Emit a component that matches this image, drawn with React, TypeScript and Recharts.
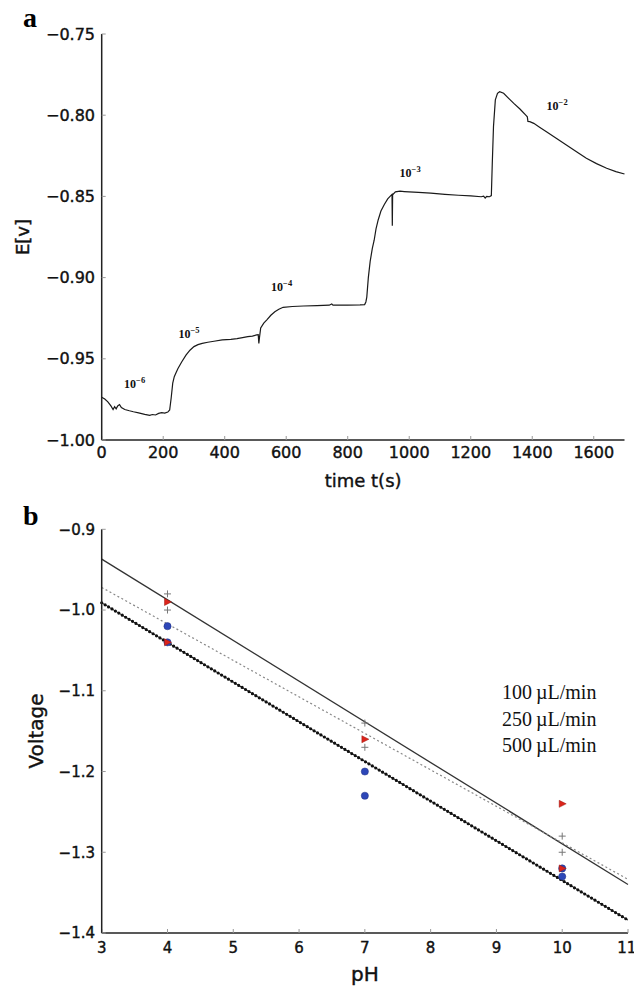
import { ComposedChart, LineChart, Line, XAxis, YAxis, Scatter, ReferenceDot } from 'recharts';

// panel a: potential trace
const timeS = [
  0, 10, 20, 30, 37, 42, 47, 52, 58, 64, 75, 90, 103, 120, 140, 156, 165, 175, 185, 195, 205, 215, 221, 226, 231,
  236, 242, 248, 260, 274, 287, 300, 313, 327, 345, 365, 392, 420, 440, 458, 475, 490, 504, 509, 511, 513, 517, 527,
  537, 550, 563, 576, 590, 620, 656, 700, 740, 748, 752, 800, 840, 855, 859, 862, 867, 873, 880, 886, 892, 899, 908,
  919, 930, 940, 944, 945, 946, 955, 970, 984, 1030, 1070, 1116, 1160, 1200, 1234, 1242, 1247, 1252, 1261, 1267,
  1270, 1274, 1280, 1287, 1294, 1307, 1320, 1340, 1360, 1379, 1384, 1386, 1392, 1405, 1425, 1445, 1478, 1511, 1544,
  1576, 1609, 1642, 1672, 1700,
];
const potentialV = [
  -0.9737, -0.9748, -0.9765, -0.979, -0.9812, -0.9795, -0.9808, -0.979, -0.9782, -0.98, -0.9812, -0.982, -0.9826,
  -0.9833, -0.9842, -0.9848, -0.9843, -0.9846, -0.9836, -0.9832, -0.9834, -0.9828, -0.9815, -0.974, -0.965, -0.961,
  -0.9585, -0.956, -0.952, -0.9477, -0.9447, -0.9425, -0.9413, -0.9405, -0.9398, -0.9392, -0.9384, -0.938, -0.9376,
  -0.937, -0.9364, -0.936, -0.9353, -0.9352, -0.9405, -0.937, -0.931, -0.928, -0.926, -0.9232, -0.921, -0.9195,
  -0.9183, -0.9178, -0.9175, -0.9172, -0.917, -0.9162, -0.917, -0.9169, -0.9168, -0.9166, -0.915, -0.912, -0.9,
  -0.89, -0.882, -0.877, -0.87, -0.8645, -0.859, -0.855, -0.8515, -0.8495, -0.8488, -0.868, -0.849, -0.8472, -0.8468,
  -0.847, -0.8475, -0.848, -0.8487, -0.8493, -0.8497, -0.8502, -0.8498, -0.851, -0.85, -0.8502, -0.8495, -0.83,
  -0.807, -0.7906, -0.7865, -0.7855, -0.7865, -0.789, -0.7927, -0.7962, -0.8, -0.801, -0.8038, -0.804, -0.805,
  -0.8075, -0.81, -0.8142, -0.8183, -0.8225, -0.8265, -0.8298, -0.8327, -0.8347, -0.8362,
];
const concExp = ['\u22126', '\u22125', '\u22124', '\u22123', '\u22122'];
const concT = [107, 284, 585, 1003, 1481];
const concE = [-0.9655, -0.9347, -0.9058, -0.8353, -0.7943];
const timeTicks = [0, 200, 400, 600, 800, 1000, 1200, 1400, 1600];
const eTicks = [-1.0, -0.95, -0.9, -0.85, -0.8, -0.75];

// panel b: voltage vs pH
const phTicks = [3, 4, 5, 6, 7, 8, 9, 10, 11];
const voltTicks = [-1.4, -1.3, -1.2, -1.1, -1.0, -0.9];
const fitSolidPh = [3, 11];
const fitSolidV = [-0.937, -1.34];
const fitDashPh = [3, 11];
const fitDashV = [-0.972, -1.3335];
const fitDotPh = [3, 11];
const fitDotV = [-0.991, -1.384];
const triPh = [4, 4, 7, 10, 10];
const triV = [-0.99, -1.04, -1.16, -1.24, -1.32];
const plusPh = [4, 4, 7, 7, 10, 10];
const plusV = [-0.98, -1.0, -1.14, -1.17, -1.28, -1.3];
const circPh = [4, 4, 7, 7, 10, 10];
const circV = [-1.02, -1.04, -1.2, -1.23, -1.32, -1.33];
const flowRates = ['100\u2009\u00b5L/min', '250\u2009\u00b5L/min', '500\u2009\u00b5L/min'];

const traceData = timeS.map((t, i) => ({ t, e: potentialV[i] }));
const pairs = (xs: number[], ys: number[]) => xs.map((ph, i) => ({ ph, v: ys[i] }));

const sans = 'DejaVu Sans';
const serif = 'Liberation Serif';
const minus = (v: number, d: number) => (v < 0 ? '\u2212' : '') + Math.abs(v).toFixed(d);

const axisLine = { stroke: '#222', strokeWidth: 1.5 };
const tickLine = { stroke: '#999', strokeWidth: 1 };
// reference text is a bit heavy, thicken with a thin stroke
const heavy = { fill: '#111', stroke: '#111', strokeWidth: 0.4 };

const TriShape = (p: any) => (
  <polygon
    points={`${p.cx - 3},${p.cy - 3.5} ${p.cx + 4},${p.cy} ${p.cx - 3},${p.cy + 3.5}`}
    fill="#dc241b"
    stroke="#9a1a12"
    strokeWidth={0.5}
  />
);
const PlusShape = (p: any) => (
  <g stroke="#777" strokeWidth={1}>
    <line x1={p.cx - 3.5} y1={p.cy} x2={p.cx + 3.5} y2={p.cy} />
    <line x1={p.cx} y1={p.cy - 3.5} x2={p.cx} y2={p.cy + 3.5} />
  </g>
);
const CircShape = (p: any) => <circle cx={p.cx} cy={p.cy} r={3.6} fill="#2d47b8" stroke="#1f2f80" strokeWidth={0.5} />;

const PowerLabel = (exp: string) => (p: any) => (
  <text x={p.cx} y={p.cy + 4} textAnchor="middle" fontFamily={serif} fontWeight="bold" fontSize={12} fill="#111">
    10<tspan dy={-5} fontSize={8.5}>{exp}</tspan>
  </text>
);

export default function App() {
  return (
    <div style={{ position: 'absolute', left: 0, top: 0, width: 634, height: 988, background: '#fff', overflow: 'hidden' }}>
      <div style={{ position: 'absolute', left: 23, top: 2, fontFamily: serif, fontWeight: 'bold', fontSize: 28 }}>a</div>
      <div style={{ position: 'absolute', left: 23, top: 500, fontFamily: serif, fontWeight: 'bold', fontSize: 28 }}>b</div>

      <div style={{ position: 'absolute', left: 0, top: 0 }}>
        <LineChart width={634} height={500} data={traceData} margin={{ top: 34, right: 9.5, bottom: 0, left: 0 }}>
          <XAxis
            dataKey="t"
            type="number"
            domain={[0, 1700]}
            ticks={timeTicks}
            height={60}
            axisLine={axisLine}
            tickLine={tickLine}
            tickSize={-4}
            tickMargin={11}
            tick={{ fontFamily: sans, fontSize: 16, ...heavy }}
            label={{ value: 'time t(s)', position: 'insideBottom', offset: 13, fontFamily: sans, fontSize: 18, ...heavy }}
          />
          <XAxis xAxisId="top" orientation="top" dataKey="t" type="number" domain={[0, 1700]} ticks={timeTicks} height={0}
            axisLine={axisLine} tickLine={tickLine} tickSize={-4} tick={false} />
          <YAxis
            type="number"
            domain={[-1.0, -0.75]}
            ticks={eTicks}
            width={101.7}
            axisLine={axisLine}
            tickLine={tickLine}
            tickSize={-4}
            tickMargin={10.7}
            tickFormatter={(v: number) => minus(v, 2)}
            tick={{ fontFamily: sans, fontSize: 16, ...heavy }}
            label={(() => (
              <text x={22} y={237} transform="rotate(-90 22 237)" textAnchor="middle" dominantBaseline="central"
                fontFamily={sans} fontSize={18} {...heavy}>E[v]</text>
            )) as any}
          />
          <YAxis yAxisId="right" orientation="right" type="number" domain={[-1.0, -0.75]} ticks={eTicks} width={0}
            axisLine={axisLine} tickLine={tickLine} tickSize={-4} tick={false} />
          <Line dataKey="e" stroke="#1a1a1a" strokeWidth={1.2} dot={false} isAnimationActive={false} />
          {concT.map((t, i) => (
            <ReferenceDot key={i} x={t} y={concE[i]} r={0} shape={PowerLabel(concExp[i])} />
          ))}
        </LineChart>
      </div>

      <div style={{ position: 'absolute', left: 0, top: 495 }}>
        <ComposedChart width={634} height={493} margin={{ top: 34.3, right: 6, bottom: 0, left: 0 }}>
          <XAxis
            dataKey="ph"
            type="number"
            domain={[3, 11]}
            ticks={phTicks}
            height={55}
            axisLine={axisLine}
            tickLine={tickLine}
            tickSize={-4}
            tickMargin={13}
            tick={{ fontFamily: sans, fontSize: 15, ...heavy }}
            label={{ value: 'pH', position: 'insideBottom', offset: 7, fontFamily: sans, fontSize: 20, ...heavy }}
          />
          <XAxis xAxisId="top" orientation="top" dataKey="ph" type="number" domain={[3, 11]} ticks={phTicks} height={0}
            axisLine={axisLine} tickLine={tickLine} tickSize={-4} tick={false} />
          <YAxis
            dataKey="v"
            type="number"
            domain={[-1.4, -0.9]}
            ticks={voltTicks}
            width={101.7}
            axisLine={axisLine}
            tickLine={tickLine}
            tickSize={-4}
            tickMargin={10.7}
            tickFormatter={(v: number) => minus(v, 1)}
            tick={{ fontFamily: sans, fontSize: 15, ...heavy }}
            label={(() => (
              <text x={36} y={236} transform="rotate(-90 36 236)" textAnchor="middle" dominantBaseline="central"
                fontFamily={sans} fontSize={20} {...heavy}>Voltage</text>
            )) as any}
          />
          <YAxis yAxisId="right" orientation="right" type="number" domain={[-1.4, -0.9]} ticks={voltTicks} width={0}
            axisLine={axisLine} tickLine={tickLine} tickSize={-4} tick={false} />
          <Line data={pairs(fitSolidPh, fitSolidV)} dataKey="v" stroke="#333" strokeWidth={1.3} dot={false} isAnimationActive={false} />
          <Line data={pairs(fitDashPh, fitDashV)} dataKey="v" stroke="#888" strokeWidth={1.2} strokeDasharray="2 2.5" dot={false} isAnimationActive={false} />
          <Line data={pairs(fitDotPh, fitDotV)} dataKey="v" stroke="#111" strokeWidth={1} dot={false} isAnimationActive={false} />
          <Line data={pairs(fitDotPh, fitDotV)} dataKey="v" stroke="#111" strokeWidth={3.2} strokeDasharray="0 4" strokeLinecap="round" dot={false} isAnimationActive={false} />
          <Scatter data={pairs(circPh, circV)} dataKey="v" shape={CircShape} isAnimationActive={false} />
          <Scatter data={pairs(plusPh, plusV)} dataKey="v" shape={PlusShape} isAnimationActive={false} />
          <Scatter data={pairs(triPh, triV)} dataKey="v" shape={TriShape} isAnimationActive={false} />
        </ComposedChart>
      </div>

      <div style={{ position: 'absolute', left: 502, top: 679, fontFamily: serif, fontSize: 20, lineHeight: '26.5px', color: '#111' }}>
        {flowRates.map((r) => (
          <div key={r}>{r}</div>
        ))}
      </div>
    </div>
  );
}
